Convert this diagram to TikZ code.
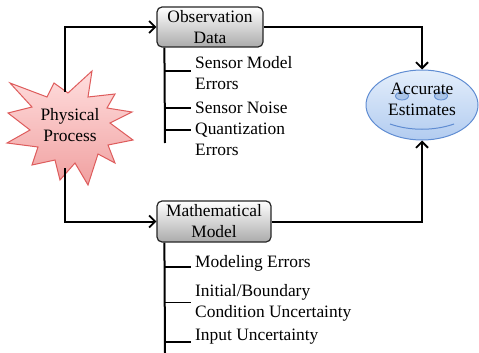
\documentclass[tikz,border=0pt]{standalone}
\usepackage{fontspec}
\setmainfont{Liberation Serif}
\usetikzlibrary{positioning,calc,arrows.meta,shapes.geometric}

\definecolor{starline}{RGB}{222,92,92}
\definecolor{startop}{RGB}{255,222,222}
\definecolor{starbot}{RGB}{240,160,160}
\definecolor{estline}{RGB}{95,140,210}
\definecolor{esttop}{RGB}{228,238,251}
\definecolor{estbot}{RGB}{178,204,240}
\definecolor{eyefill}{RGB}{170,196,232}

\tikzset{
  stagebox/.style={draw=black!85, line width=1.2pt, rounded corners=5pt, top color=white, bottom color=black!33, align=center, inner sep=0pt},
  item/.style={anchor=west, align=left, inner xsep=4pt, inner ysep=0pt},
  flow/.style={line width=2pt, -{Straight Barb[length=6pt,width=12pt,line width=1.8pt]}},
  twig/.style={line width=1.6pt},
  burst/.style={draw=starline, line width=1pt, top color=startop, bottom color=starbot},
}

\begin{document}
\begin{tikzpicture}[x=1pt,y=-1pt,font={\rmfamily\fontsize{17.4}{21}\selectfont}]
\useasboundingbox (0,0) rectangle (479,353);

% physical process
\draw[burst] (92,71) -- (88,97) -- (115,94) -- (107,108) -- (132,112) -- (110,123) -- (133,140) -- (108,145)
  -- (115,163) -- (98,154) -- (88,185) -- (75,163) -- (60,180) -- (55,160) -- (32,165) -- (38,147) -- (7,143)
  -- (30,130) -- (8,113) -- (32,107) -- (10,83) -- (47,97) -- (54,83) -- (68,93) -- cycle;
\node[align=center, inner sep=0pt] (phys) at (70,125) {Physical\\Process};
\coordinate (ptop) at (65,92);
\coordinate (pbot) at (65,168);

% stages
\node[stagebox, minimum width=106, minimum height=40] (obs) at (210,27) {Observation\\Data};
\node[stagebox, minimum width=114, minimum height=41] (math) at (214,221.5) {Mathematical\\Model};

% estimates
\node[ellipse, draw=estline, line width=1pt, top color=esttop, bottom color=estbot, minimum width=112, minimum height=70] (est) at (422,105) {};
\draw[estline, fill=eyefill, line width=0.8pt] (402,96) ellipse [x radius=6.5pt, y radius=4pt];
\draw[estline, fill=eyefill, line width=0.8pt] (441,96) ellipse [x radius=6.5pt, y radius=4pt];
\draw[estline, line width=1pt] (390,124) .. controls (410,131) and (434,131) .. (454,124);
\node[align=center, inner sep=0pt] (estlbl) at (422,99) {Accurate\\Estimates};

\draw[flow] (ptop) |- (obs.west);
\draw[flow] (pbot) |- (math.west);
\draw[flow] (obs.east) -| (est.north);
\draw[flow] (math.east) -| (est.south);

% observation errors
\node[item] (smerr) at (191,73.5) {Sensor Model\\Errors};
\node[item] (snoise) at (191,108) {Sensor Noise};
\node[item] (qerr) at (191,139.5) {Quantization\\Errors};
\coordinate (obstrunk) at ([xshift=8pt]obs.south west);
\coordinate (obsend) at (165,143);
\draw[line width=2pt] (obstrunk) -- (obsend);
\draw[twig] (obstrunk |- 0,71) -- ([yshift=2.5pt]smerr.west);
\draw[twig] (obstrunk |- snoise.west) -- (snoise.west);
\draw[twig] (obstrunk |- 0,130) -- ([yshift=9.5pt]qerr.west);

% model errors
\node[item] (moderr) at (191,263) {Modeling Errors};
\node[item] (ibcu) at (191,302.5) {Initial/Boundary\\Condition Uncertainty};
\node[item] (inunc) at (191,337) {Input Uncertainty};
\coordinate (mathtrunk) at ([xshift=8pt]math.south west);
\coordinate (mathend) at (165,353);
\draw[line width=2pt] (mathtrunk) -- (mathend);
\draw[twig] (mathtrunk |- 0,267) -- ([yshift=-4pt]moderr.west);
\draw[twig] (mathtrunk |- ibcu.west) -- (ibcu.west);
\draw[twig] (mathtrunk |- 0,342) -- ([yshift=-5pt]inunc.west);
\end{tikzpicture}
\end{document}
